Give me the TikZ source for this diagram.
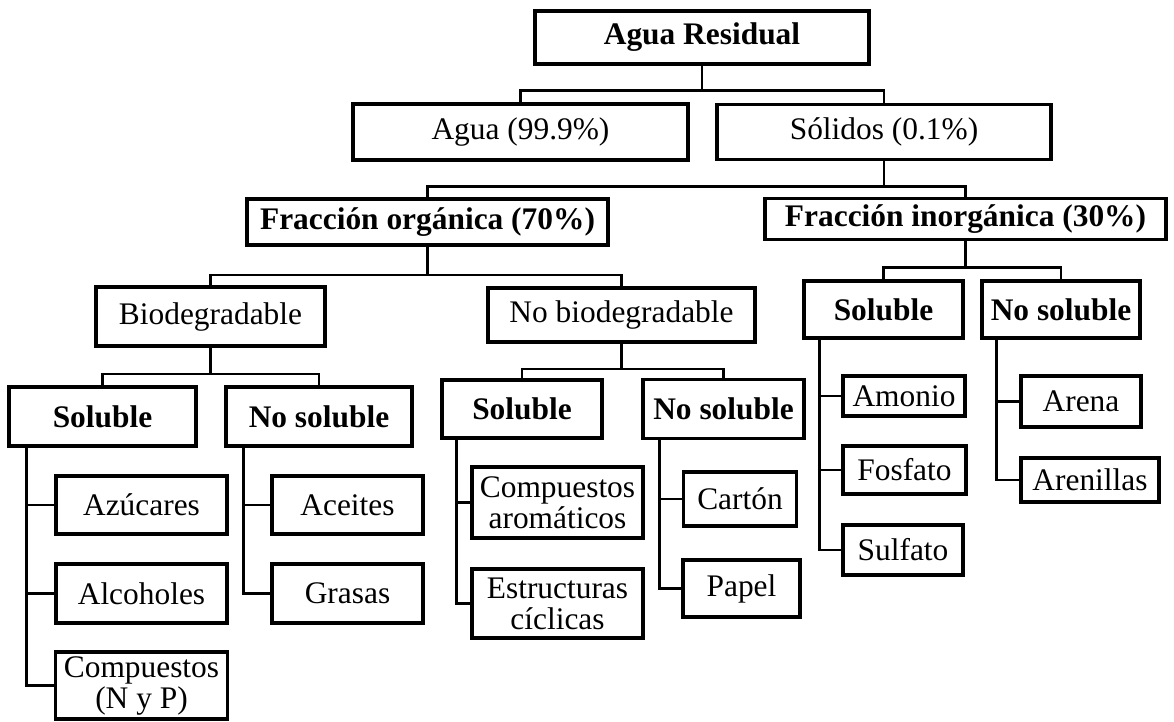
\documentclass[tikz,border=0pt]{standalone}
\usepackage{fontspec}
\setmainfont{Liberation Serif}
\usepackage{tikz}
\tikzset{every node/.append style={font=\fontsize{31.4}{31}\selectfont}}
\tikzset{caja/.style={draw, line width=3.5pt, inner sep=0pt, align=center}}
\tikzset{linea/.style={line width=2.5pt}}

\begin{document}
\begin{tikzpicture}[x=1pt,y=-1pt]
  \useasboundingbox[fill=white] (0,0) rectangle (1174,722);
  % niveles superiores
  \node[caja,minimum width=334,minimum height=53] (ar) at (702,37.5) {\textbf{Agua Residual}};
  \node[caja,minimum width=335,minimum height=56] (agua) at (520.5,132) {Agua (99.9\%)};
  \node[caja,minimum width=334,minimum height=55] (sol) at (884,132) {Sólidos (0.1\%)};
  \node[caja,minimum width=361,minimum height=46] (forg) at (427.5,222) {\textbf{Fracción orgánica (70\%)}};
  \node[caja,minimum width=401,minimum height=41] (finorg) at (965.5,219) {\textbf{Fracción inorgánica (30\%)}};
  \node[caja,minimum width=229,minimum height=59] (bio) at (210.5,316.5) {Biodegradable};
  \node[caja,minimum width=267,minimum height=54] (nobio) at (621.5,315) {No biodegradable};
  % biodegradable
  \node[caja,minimum width=187,minimum height=59] (sol1) at (102.5,416.5) {\textbf{Soluble}};
  \node[caja,minimum width=186,minimum height=59] (nsol1) at (319,416.5) {\textbf{No soluble}};
  \node[caja,minimum width=171,minimum height=58] (azu) at (141.5,505) {Azúcares};
  \node[caja,minimum width=171,minimum height=59] (alc) at (141.5,593.5) {Alcoholes};
  \node[caja,minimum width=172,minimum height=67] (cnp) at (141.5,685.5) {Compuestos\\(N y P)};
  \node[caja,minimum width=151,minimum height=58] (ace) at (347.5,505) {Aceites};
  \node[caja,minimum width=151,minimum height=59] (gra) at (347.5,593.5) {Grasas};
  % no biodegradable
  \node[caja,minimum width=160,minimum height=58] (sol2) at (522,409) {\textbf{Soluble}};
  \node[caja,minimum width=161,minimum height=59] (nsol2) at (723.5,409) {\textbf{No soluble}};
  \node[caja,minimum width=171,minimum height=71] (car) at (557.5,502.5) {Compuestos\\aromáticos};
  \node[caja,minimum width=171,minimum height=69] (est) at (557.5,603.5) {Estructuras\\cíclicas};
  \node[caja,minimum width=113,minimum height=54] (cart) at (740,499) {Cartón};
  \node[caja,minimum width=117,minimum height=57] (pap) at (741.5,588.5) {Papel};
  % inorganica
  \node[caja,minimum width=159,minimum height=57] (sol3) at (883.5,309.5) {\textbf{Soluble}};
  \node[caja,minimum width=158,minimum height=57] (nsol3) at (1061,309.5) {\textbf{No soluble}};
  \node[caja,minimum width=122,minimum height=40] (amo) at (904,396) {Amonio};
  \node[caja,minimum width=123,minimum height=48] (fos) at (904.5,470) {Fosfato};
  \node[caja,minimum width=120,minimum height=50] (sulf) at (903,550) {Sulfato};
  \node[caja,minimum width=120,minimum height=51] (are) at (1081,401.5) {Arena};
  \node[caja,minimum width=138,minimum height=44] (arl) at (1090,480) {Arenillas};

  % ramas
  \draw[linea] (ar.south) -- ++(0,25) -| (agua.north);
  \draw[linea] (ar.south) -- ++(0,25) -| (sol.north);
  \draw[linea] (sol.south) -- ++(0,25) -| (forg.north);
  \draw[linea] (sol.south) -- ++(0,25) -| (finorg.north);
  \draw[linea] (forg.south) -- ++(0,28) -| (bio.north);
  \draw[linea] (forg.south) -- ++(0,28) -| (nobio.north);
  \draw[linea] (bio.south) -- ++(0,26) -| (sol1.north);
  \draw[linea] (bio.south) -- ++(0,26) -| (nsol1.north);
  \draw[linea] (nobio.south) -- ++(0,25) -| (sol2.north);
  \draw[linea] (nobio.south) -- ++(0,25) -| (nsol2.north);
  \draw[linea] (finorg.south) -- ++(0,26) -| (sol3.north);
  \draw[linea] (finorg.south) -- ++(0,26) -| (nsol3.north);
  % troncos
  \foreach \h in {azu,alc,cnp}
    \draw[linea] ([xshift=19pt]sol1.south west) |- (\h.west);
  \foreach \h in {ace,gra}
    \draw[linea] ([xshift=19pt]nsol1.south west) |- (\h.west);
  \foreach \h in {car,est}
    \draw[linea] ([xshift=16pt]sol2.south west) |- (\h.west);
  \foreach \h in {cart,pap}
    \draw[linea] ([xshift=18pt]nsol2.south west) |- (\h.west);
  \foreach \h in {amo,fos,sulf}
    \draw[linea] ([xshift=17pt]sol3.south west) |- (\h.west);
  \foreach \h in {are,arl}
    \draw[linea] ([xshift=16pt]nsol3.south west) |- (\h.west);
\end{tikzpicture}
\end{document}
